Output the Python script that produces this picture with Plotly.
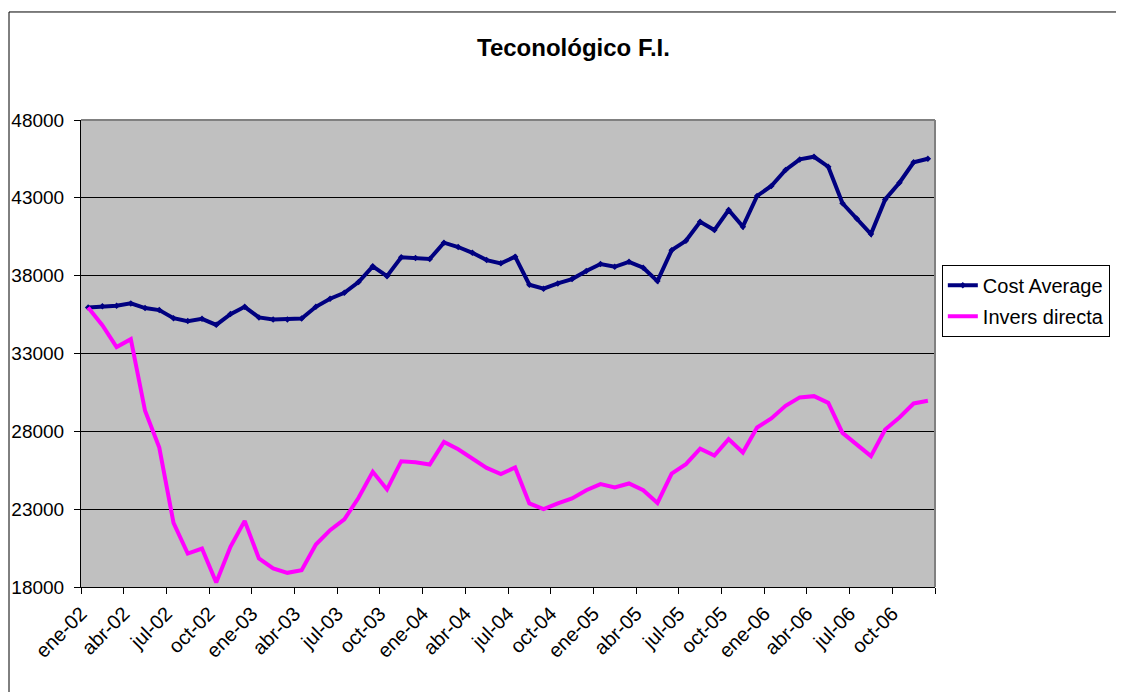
import plotly.graph_objects as go

# ---- data ----
month_names = ["ene", "feb", "mar", "abr", "may", "jun", "jul", "ago", "sep", "oct", "nov", "dic"]
years = ["02", "03", "04", "05", "06"]
months = [f"{m}-{y}" for y in years for m in month_names]

cost_average = [
    35960, 36030, 36070, 36220, 35920, 35790, 35270, 35080, 35230, 34840, 35530, 36000,
    35320, 35190, 35190, 35250, 36000, 36520, 36900, 37590, 38600, 37970, 39180, 39130,
    39070, 40120, 39840, 39470, 39000, 38790, 39220, 37420, 37160, 37500, 37780, 38300,
    38750, 38570, 38890, 38510, 37650, 39640, 40240, 41460, 40930, 42220, 41150, 43120,
    43760, 44790, 45470, 45640, 45000, 42650, 41680, 40670, 42900, 43970, 45280, 45510,
]
invers_directa = [
    35960, 34820, 33410, 33920, 29320, 26960, 22120, 20150, 20470, 18290, 20580, 22250,
    19830, 19190, 18910, 19080, 20730, 21650, 22340, 23730, 25400, 24270, 26080, 26020,
    25870, 27320, 26850, 26250, 25650, 25250, 25680, 23370, 23000, 23370, 23690, 24220,
    24610, 24390, 24650, 24220, 23400, 25290, 25890, 26890, 26450, 27500, 26640, 28250,
    28830, 29640, 30180, 30260, 29830, 27900, 27180, 26410, 28120, 28890, 29790, 29960,
]
tick_labels = months[::3]          # ene-02, abr-02, ... oct-06
y_ticks = [18000, 23000, 28000, 33000, 38000, 43000, 48000]

x_idx = list(range(len(months)))
# ticks sit on category boundaries, every 3 categories
x_tickvals = [i - 0.5 for i in range(0, len(months) + 1, 3)]
x_ticktext = tick_labels + [""]

FONT = "Liberation Sans, Arial, sans-serif"

fig = go.Figure()
fig.add_trace(go.Scatter(
    x=x_idx, y=cost_average, text=months, name="Cost Average",
    mode="lines+markers", line=dict(color="#000080", width=4),
    marker=dict(color="#000080", size=5, symbol="diamond"),
    legendgroup="a",
))
fig.add_trace(go.Scatter(
    x=x_idx, y=invers_directa, text=months, name="Invers directa",
    mode="lines", line=dict(color="#FF00FF", width=4),
    legendgroup="b",
))

fig.update_layout(
    width=1116, height=684,
    margin=dict(l=73, r=189, t=112, b=105, autoexpand=False),
    paper_bgcolor="white", plot_bgcolor="#C0C0C0",
    font=dict(family=FONT, size=19, color="black"),
    showlegend=True,
    legend=dict(
        x=1.008, y=0.69, xanchor="left", yanchor="top",
        bgcolor="white", bordercolor="black", borderwidth=1,
        font=dict(size=20, family=FONT), tracegroupgap=2,
        traceorder="grouped",
    ),
    xaxis=dict(
        range=[-0.5, len(months) - 0.5],
        tickmode="array", tickvals=x_tickvals, ticktext=x_ticktext,
        tickangle=-45, ticks="outside", ticklen=6, tickcolor="black",
        showgrid=False, zeroline=False, automargin=False,
        showline=True, linecolor="black", linewidth=1,
        tickfont=dict(size=20, family=FONT),
    ),
    yaxis=dict(
        range=[18000, 48000],
        tickmode="array", tickvals=y_ticks, tickformat="d",
        ticks="outside", ticklen=6, tickcolor="black",
        ticklabelstandoff=6, automargin=False,
        showgrid=True, gridcolor="black", gridwidth=1,
        zeroline=False,
        showline=True, linecolor="black", linewidth=1,
        tickfont=dict(size=19, family=FONT),
    ),
    annotations=[dict(
        text="<b>Teconológico F.I.</b>", xref="paper", yref="paper",
        x=0.577, y=1.156, xanchor="center", yanchor="middle",
        showarrow=False, font=dict(size=24, family=FONT, color="black"),
    )],
    shapes=[
        # gray plot-area border top and right
        dict(type="line", xref="paper", yref="paper", x0=0, x1=1, y0=1, y1=1,
             line=dict(color="#808080", width=2)),
        dict(type="line", xref="paper", yref="paper", x0=1, x1=1, y0=0, y1=1,
             line=dict(color="#808080", width=2)),
        # outer chart frame (left and top edges visible)
        dict(type="line", xref="paper", yref="paper",
             x0=-0.0843, x1=-0.0843, y0=-0.3, y1=1.2313,
             line=dict(color="black", width=1)),
        dict(type="line", xref="paper", yref="paper",
             x0=-0.0843, x1=1.3, y0=1.2313, y1=1.2313,
             line=dict(color="black", width=1)),
    ],
)

fig.write_html(
    "out.html",
    post_script="document.body.style.overflow='hidden';",
)
